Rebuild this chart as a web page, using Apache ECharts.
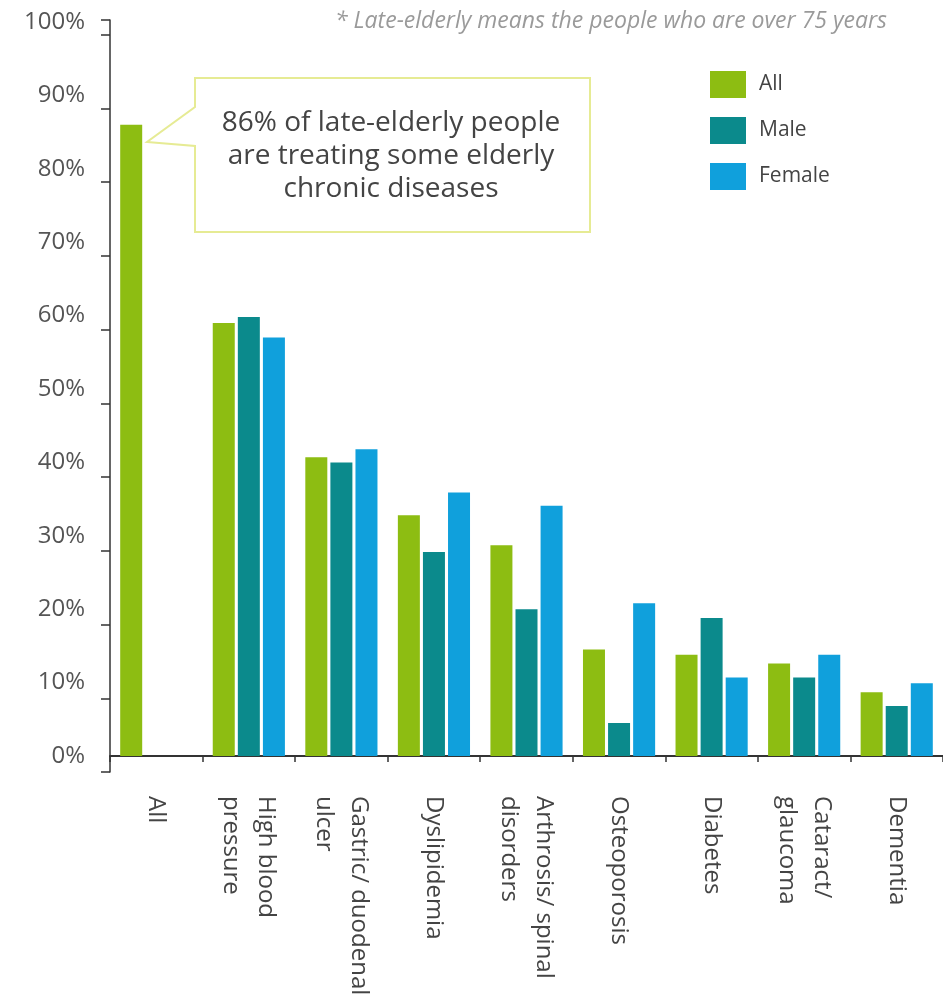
<!DOCTYPE html>
<html>
<head>
<meta charset="utf-8">
<script src="https://cdn.jsdelivr.net/npm/echarts@6/dist/echarts.min.js"></script>
<style>
  html, body { margin: 0; padding: 0; background: #fff; }
  #chart { width: 943px; height: 1000px; }
</style>
</head>
<body>
<div id="chart"></div>
<script>
const categories = ["All", "High blood\npressure", "Gastric/ duodenal\nulcer", "Dyslipidemia", "Arthrosis/ spinal\ndisorders", "Osteoporosis", "Diabetes", "Cataract/\nglaucoma", "Dementia"];
const seriesNames = ["All", "Male", "Female"];
const allValues = [86, 59, 40.7, 32.8, 28.7, 14.5, 13.8, 12.6, 8.7];
const maleValues = [null, 59.8, 40.0, 27.8, 20.0, 4.5, 18.8, 10.7, 6.8];
const femaleValues = [null, 57.0, 41.8, 35.9, 34.1, 20.8, 10.7, 13.8, 9.9];
const yTickValues = [0, 10, 20, 30, 40, 50, 60, 70, 80, 90, 100];
const annotationLines = ["86% of late-elderly people", "are treating some elderly", "chronic diseases"];
const footnote = "* Late-elderly means the people who are over 75 years";

const colors = ["#8dbd12", "#0b8a8c", "#10a0dc"];
const FONT = "Open Sans";

const chart = echarts.init(document.getElementById('chart'), null, { renderer: 'canvas' });

const option = {
  backgroundColor: '#ffffff',
  animation: false,
  textStyle: { fontFamily: FONT },
  legend: {
    orient: 'vertical',
    left: 705,
    top: 66,
    itemWidth: 36,
    itemHeight: 27,
    itemGap: 19,
    icon: 'rect',
    data: seriesNames,
    textStyle: { fontFamily: FONT, fontSize: 21, color: '#444', padding: [0, 0, 0, 8] }
  },
  grid: [
    { left: 110, right: -13, top: 22, bottom: 244, containLabel: false },
    { left: 110, width: 1, top: 20, bottom: 228, containLabel: false }
  ],
  xAxis: [
    {
      type: 'category',
      gridIndex: 0,
      data: categories,
      boundaryGap: true,
      axisLine: { show: true, lineStyle: { color: '#333', width: 2 } },
      axisTick: { show: true, alignWithLabel: false, length: 6, lineStyle: { color: '#333', width: 1.5 } },
      axisLabel: {
        rotate: -90,
        margin: 40,
        fontFamily: FONT,
        fontSize: 24,
        lineHeight: 35,
        color: '#444',
        interval: 0
      }
    },
    {
      type: 'category', gridIndex: 1, data: [''], show: false
    }
  ],
  yAxis: [
    {
      type: 'value',
      gridIndex: 0,
      min: 0,
      max: 100,
      interval: 10,
      axisLine: { show: false },
      axisTick: { show: false },
      splitLine: { show: false },
      axisLabel: {
        margin: 25,
        fontFamily: FONT,
        fontSize: 24,
        color: '#555',
        formatter: function (v) { return yTickValues.indexOf(v) >= 0 ? v + '%' : ''; }
      }
    },
    {
      type: 'value',
      gridIndex: 1,
      min: 0,
      max: 102,
      interval: 10,
      axisLine: { show: true, lineStyle: { color: '#333', width: 1.5 } },
      axisTick: { show: true, length: 9, lineStyle: { color: '#333', width: 1.5 } },
      axisLabel: { show: false },
      splitLine: { show: false }
    }
  ],
  series: [
    { name: seriesNames[0], type: 'bar', xAxisIndex: 0, yAxisIndex: 0, data: allValues, barWidth: 22, barGap: '14%', itemStyle: { color: colors[0] } },
    { name: seriesNames[1], type: 'bar', xAxisIndex: 0, yAxisIndex: 0, data: maleValues, barWidth: 22, barGap: '14%', itemStyle: { color: colors[1] } },
    { name: seriesNames[2], type: 'bar', xAxisIndex: 0, yAxisIndex: 0, data: femaleValues, barWidth: 22, barGap: '14%', itemStyle: { color: colors[2] } }
  ],
  graphic: [
    {
      type: 'polygon',
      z: 10,
      shape: { points: [[195, 78], [590, 78], [590, 232], [195, 232], [195, 146], [147, 142], [195, 107]] },
      style: { fill: '#ffffff', stroke: '#e6eb94', lineWidth: 2 }
    },
    {
      type: 'text',
      z: 11,
      x: 391,
      y: 107,
      style: {
        text: annotationLines.join('\n'),
        align: 'center',
        verticalAlign: 'top',
        fontFamily: FONT,
        fontSize: 28,
        lineHeight: 33,
        fill: '#444'
      }
    },
    {
      type: 'text',
      z: 11,
      x: 887,
      y: 21,
      style: {
        text: footnote,
        align: 'right',
        verticalAlign: 'middle',
        fontFamily: FONT,
        fontStyle: 'italic',
        fontSize: 23,
        fill: '#9a9a9a'
      }
    }
  ]
};

chart.setOption(option);
</script>
</body>
</html>
